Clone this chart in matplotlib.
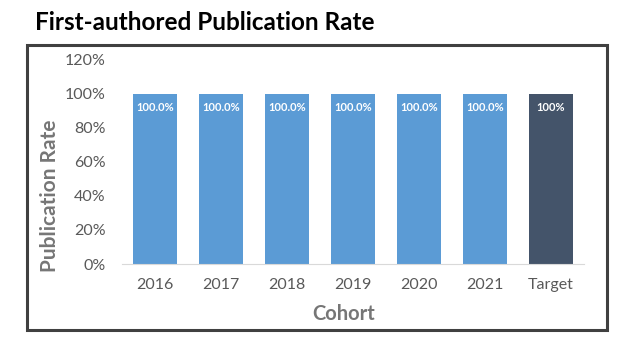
import matplotlib.pyplot as plt
from matplotlib.patches import Rectangle
from matplotlib.ticker import PercentFormatter

plt.rcParams['font.family'] = ['Lato', 'DejaVu Sans']

cohorts = ['2016', '2017', '2018', '2019', '2020', '2021', 'Target']
rates = [1.0, 1.0, 1.0, 1.0, 1.0, 1.0, 1.0]
labels = ['100.0%', '100.0%', '100.0%', '100.0%', '100.0%', '100.0%', '100%']
colors = ['#5B9BD5'] * 6 + ['#44546A']

fig = plt.figure(figsize=(6.24, 3.46), dpi=100)
ax = fig.add_axes([122 / 624, 1 - 264 / 346, 462 / 624, 204 / 346])

x = range(len(cohorts))
bars = ax.bar(x, rates, width=0.68, color=colors)
for b, lab in zip(bars, labels):
    ax.annotate(lab, (b.get_x() + b.get_width() / 2, b.get_height()),
                xytext=(0, -10), textcoords='offset points',
                ha='center', va='center', color='white',
                fontsize=8, fontweight='bold')

ax.set_xlim(-0.5, len(cohorts) - 0.5)
ax.set_ylim(0, 1.2)
ax.set_yticks([0, 0.2, 0.4, 0.6, 0.8, 1.0, 1.2])
ax.yaxis.set_major_formatter(PercentFormatter(1.0, decimals=0))
ax.set_xticks(list(x))
ax.set_xticklabels(cohorts)
ax.tick_params(axis='both', length=0, labelsize=11.5, colors='#595959')
ax.tick_params(axis='x', pad=10)
ax.tick_params(axis='y', pad=12)
for side in ['top', 'right', 'left']:
    ax.spines[side].set_visible(False)
ax.spines['bottom'].set_color('#D9D9D9')

fig.text(50 / 624, 1 - 196 / 346, 'Publication Rate', rotation=90,
         ha='center', va='center', fontsize=15, fontweight='bold', color='#767676')
fig.text(344 / 624, 1 - 314 / 346, 'Cohort', ha='center', va='center',
         fontsize=14.5, fontweight='bold', color='#767676')
fig.text(35 / 624, 1 - 22 / 346, 'First-authored Publication Rate',
         ha='left', va='center', fontsize=17.5, fontweight='bold', color='black')

fig.patches.append(Rectangle((27 / 624, 1 - 330 / 346), 580 / 624, 285 / 346,
                             transform=fig.transFigure, fill=False,
                             edgecolor='#404040', linewidth=2.2))

fig.savefig('out.png', dpi=100)
